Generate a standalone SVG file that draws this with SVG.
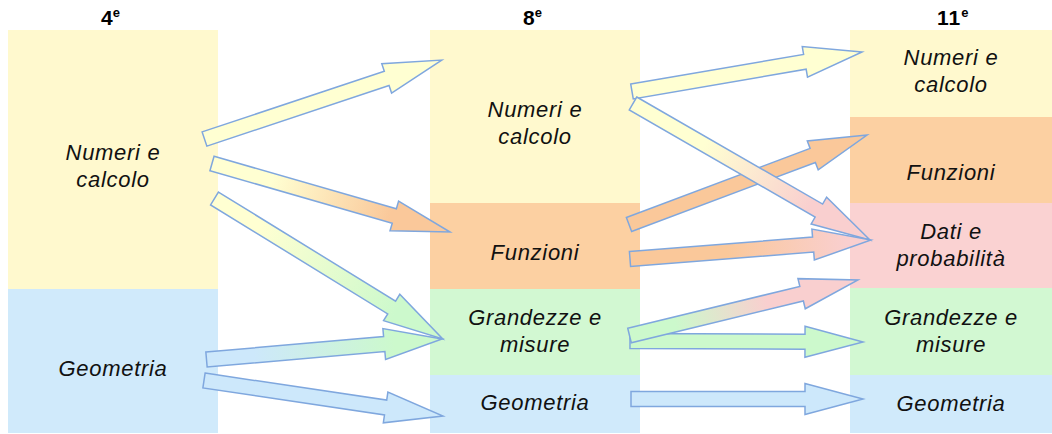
<svg xmlns="http://www.w3.org/2000/svg" width="1052" height="434" viewBox="0 0 1052 434">
<style>
.lbl{font-family:"Liberation Sans",Arial,sans-serif;font-style:italic;font-size:22px;letter-spacing:0.7px;fill:#111;text-anchor:middle}
.hdr{font-family:"Liberation Sans",Arial,sans-serif;font-weight:bold;font-size:21px;fill:#000}
.sup{font-size:13px}
.arr{stroke:#7FA7DE;stroke-width:1.5;stroke-linejoin:miter}
.y{fill:#FFF9CE}.o{fill:#FCD0A2}.p{fill:#FAD2D2}.g{fill:#D2F8D2}.b{fill:#D0EAFB}
</style>
<defs>
<linearGradient id="gy"><stop offset="0" stop-color="#FFFFD2"/><stop offset="1" stop-color="#FFFFD2"/></linearGradient>
<linearGradient id="go"><stop offset="0" stop-color="#FAC89A"/><stop offset="1" stop-color="#FAC89A"/></linearGradient>
<linearGradient id="gg"><stop offset="0" stop-color="#CCF9CC"/><stop offset="1" stop-color="#CCF9CC"/></linearGradient>
<linearGradient id="gb"><stop offset="0" stop-color="#CDE8FB"/><stop offset="1" stop-color="#CDE8FB"/></linearGradient>
<linearGradient id="gyo"><stop offset="0.25" stop-color="#FFFFD2"/><stop offset="0.75" stop-color="#FAC89A"/></linearGradient>
<linearGradient id="gyg"><stop offset="0.2" stop-color="#FFFFD2"/><stop offset="0.8" stop-color="#CCF9CC"/></linearGradient>
<linearGradient id="gbg"><stop offset="0.2" stop-color="#CDE8FB"/><stop offset="0.8" stop-color="#CCF9CC"/></linearGradient>
<linearGradient id="gyp"><stop offset="0.3" stop-color="#FFFFD2"/><stop offset="0.75" stop-color="#F9CFCF"/></linearGradient>
<linearGradient id="gop"><stop offset="0.4" stop-color="#FAC89A"/><stop offset="0.9" stop-color="#F9CFCF"/></linearGradient>
<linearGradient id="ggp"><stop offset="0.2" stop-color="#CCF9CC"/><stop offset="0.6" stop-color="#F9CFCF"/></linearGradient>
</defs>
<rect width="1052" height="434" fill="#fff"/>
<g id="headers">
<text class="hdr" x="101" y="25">4<tspan class="sup" dy="-8">e</tspan></text>
<text class="hdr" x="523" y="25">8<tspan class="sup" dy="-8">e</tspan></text>
<text class="hdr" x="937" y="25" letter-spacing="1">11<tspan class="sup" dy="-8">e</tspan></text>
</g>
<g id="c4-numeri"><rect class="y" x="8" y="30" width="210" height="259"/><text class="lbl" x="113" y="160">Numeri e</text><text class="lbl" x="113" y="187">calcolo</text></g>
<g id="c4-geometria"><rect class="b" x="8" y="289" width="210" height="144"/><text class="lbl" x="113" y="376">Geometria</text></g>
<g id="c8-numeri"><rect class="y" x="430" y="30" width="210" height="173"/><text class="lbl" x="535" y="117">Numeri e</text><text class="lbl" x="535" y="144">calcolo</text></g>
<g id="c8-funzioni"><rect class="o" x="430" y="203" width="210" height="86"/><text class="lbl" x="535" y="260">Funzioni</text></g>
<g id="c8-grandezze"><rect class="g" x="430" y="289" width="210" height="86"/><text class="lbl" x="535" y="325">Grandezze e</text><text class="lbl" x="535" y="352">misure</text></g>
<g id="c8-geometria"><rect class="b" x="430" y="375" width="210" height="58"/><text class="lbl" x="535" y="410">Geometria</text></g>
<g id="c11-numeri"><rect class="y" x="850" y="30" width="202" height="87"/><text class="lbl" x="951" y="65">Numeri e</text><text class="lbl" x="951" y="92">calcolo</text></g>
<g id="c11-funzioni"><rect class="o" x="850" y="117" width="202" height="86"/><text class="lbl" x="951" y="180">Funzioni</text></g>
<g id="c11-dati"><rect class="p" x="850" y="203" width="202" height="85"/><text class="lbl" x="951" y="239">Dati e</text><text class="lbl" x="951" y="266">probabilità</text></g>
<g id="c11-grandezze"><rect class="g" x="850" y="288" width="202" height="87"/><text class="lbl" x="951" y="325">Grandezze e</text><text class="lbl" x="951" y="352">misure</text></g>
<g id="c11-geometria"><rect class="b" x="850" y="375" width="202" height="58"/><text class="lbl" x="951" y="411">Geometria</text></g>
<g id="connectors">
<path class="arr" fill="url(#gy)" transform="translate(204.5,139) rotate(-18.4)" d="M0,-7.5H192V-15.5L250,0L192,15.5V7.5H0Z"/>
<path class="arr" fill="url(#gyo)" transform="translate(212,163.5) rotate(16.06)" d="M0,-7.5H189.7V-15.5L247.7,0L189.7,15.5V7.5H0Z"/>
<path class="arr" fill="url(#gyg)" transform="translate(214.5,198.5) rotate(31.6)" d="M0,-7.5H208V-15.5L268,0L208,15.5V7.5H0Z"/>
<path class="arr" fill="url(#gbg)" transform="translate(206.5,359.5) rotate(-4.97)" d="M0,-7.5H178.4V-15.5L236.4,0L178.4,15.5V7.5H0Z"/>
<path class="arr" fill="url(#gb)" transform="translate(204,380.5) rotate(8.45)" d="M0,-7.5H183.6V-15.5L241.6,0L183.6,15.5V7.5H0Z"/>
<path class="arr" fill="url(#gy)" transform="translate(632,91.5) rotate(-9.74)" d="M0,-7.5H175.4V-15.5L233.4,0L175.4,15.5V7.5H0Z"/>
<path class="arr" fill="url(#go)" transform="translate(629,224.5) rotate(-20.6)" d="M0,-7.5H196.3V-15.5L254.3,0L196.3,15.5V7.5H0Z"/>
<path class="arr" fill="url(#gyp)" transform="translate(633,103.5) rotate(29.94)" d="M0,-7.5H214.5V-15.5L273.5,0L214.5,15.5V7.5H0Z"/>
<path class="arr" fill="url(#gop)" transform="translate(630,259) rotate(-4.5)" d="M0,-7.5H183.7V-15.5L241.7,0L183.7,15.5V7.5H0Z"/>
<path class="arr" fill="url(#gg)" transform="translate(630,341) rotate(0.25)" d="M0,-7.5H175V-15.5L233,0L175,15.5V7.5H0Z"/>
<path class="arr" fill="url(#ggp)" transform="translate(629.5,335.5) rotate(-13.65)" d="M0,-7.5H177.1V-15.5L235.1,0L177.1,15.5V7.5H0Z"/>
<path class="arr" fill="url(#gb)" transform="translate(631,399)" d="M0,-7.5H174V-15.5L232,0L174,15.5V7.5H0Z"/>
</g>
</svg>
